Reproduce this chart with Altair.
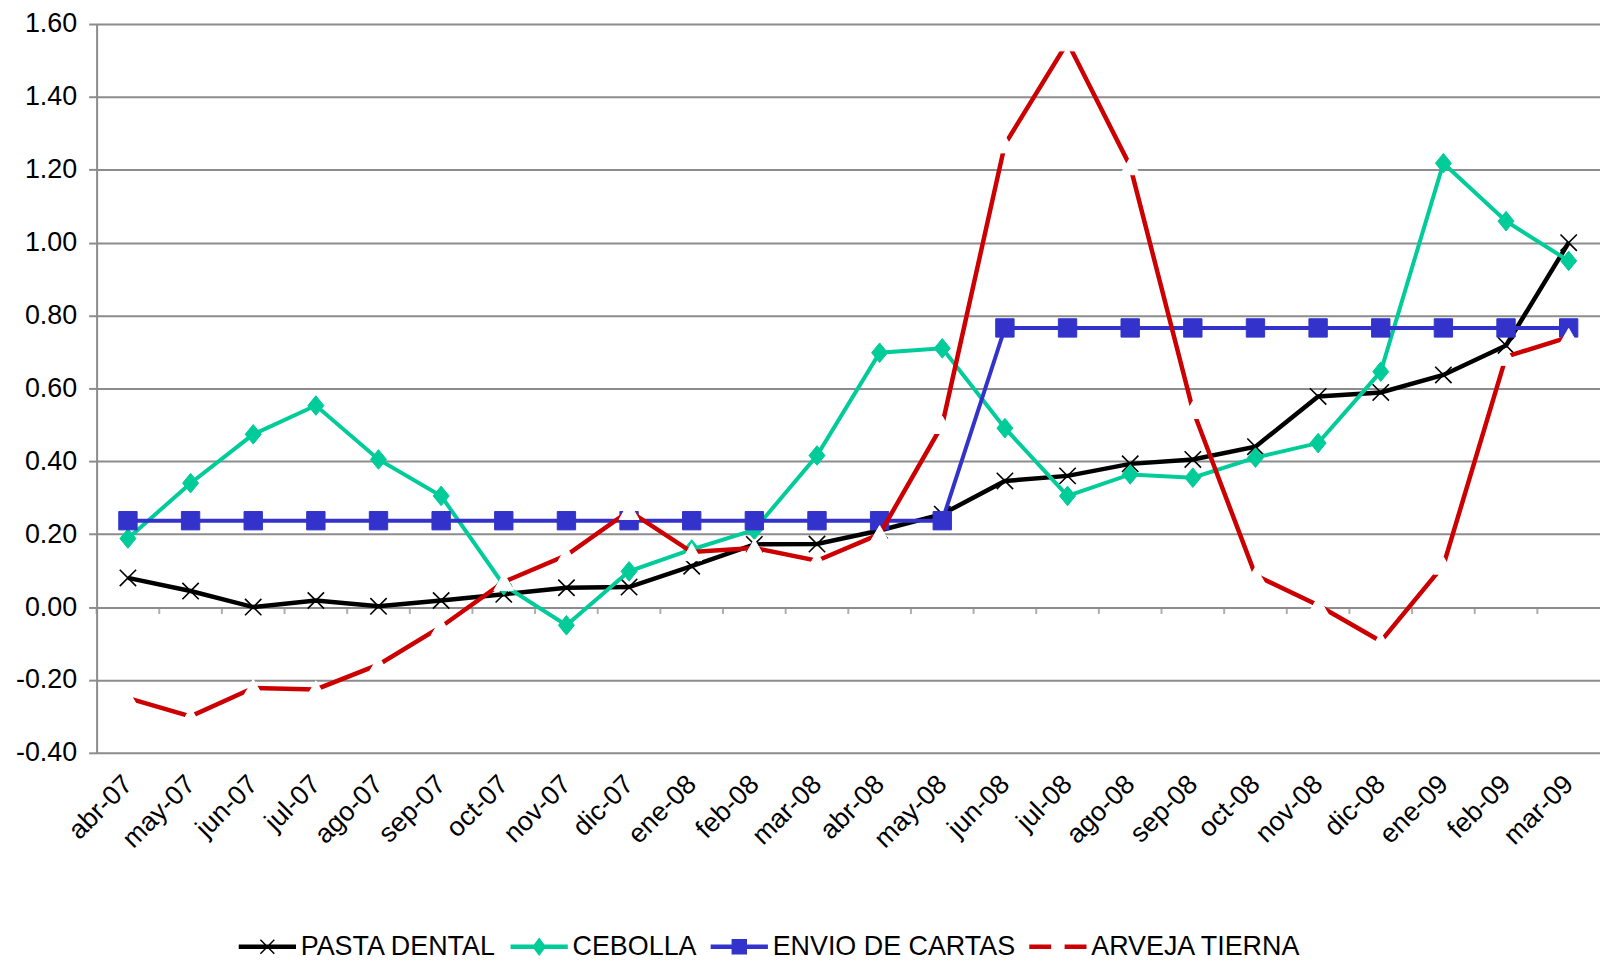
import altair as alt
import pandas as pd

months = ["abr-07", "may-07", "jun-07", "jul-07", "ago-07", "sep-07", "oct-07", "nov-07",
          "dic-07", "ene-08", "feb-08", "mar-08", "abr-08", "may-08", "jun-08", "jul-08",
          "ago-08", "sep-08", "oct-08", "nov-08", "dic-08", "ene-09", "feb-09", "mar-09"]
series_names = ["PASTA DENTAL", "CEBOLLA", "ENVIO DE CARTAS", "ARVEJA TIERNA"]

pasta = [0.080, 0.044, 0.000, 0.018, 0.002, 0.018, 0.035, 0.053, 0.055, 0.112, 0.172, 0.173,
         0.210, 0.255, 0.346, 0.360, 0.393, 0.405, 0.440, 0.578, 0.589, 0.637, 0.718, 1.000]
cebolla = [0.188, 0.340, 0.474, 0.553, 0.405, 0.305, 0.060, -0.050, 0.098, 0.158, 0.212, 0.416,
           0.698, 0.710, 0.491, 0.305, 0.364, 0.355, 0.410, 0.450, 0.646, 1.218, 1.059, 0.950]
envio = [0.237, 0.237, 0.237, 0.237, 0.237, 0.237, 0.237, 0.237, 0.237, 0.237, 0.237, 0.237,
         0.237, 0.237, 0.766, 0.766, 0.766, 0.766, 0.766, 0.766, 0.766, 0.766, 0.766, 0.766]
arveja = [-0.250, -0.300, -0.222, -0.226, -0.158, -0.054, 0.069, 0.142, 0.264, 0.151, 0.162, 0.127,
          0.200, 0.500, 1.270, 1.550, 1.210, 0.541, 0.087, 0.005, -0.094, 0.114, 0.687, 0.741]

colors = ["#000000", "#00CC99", "#3333CC", "#CC0000"]
values = [pasta, cebolla, envio, arveja]

rows = []
for name, vals in zip(series_names, values):
    for m, v in zip(months, vals):
        rows.append({"mes": m, "serie": name, "valor": v})
df = pd.DataFrame(rows)
ticks_df = pd.DataFrame({"mes": months})

W, H = 1510, 732
step = W / len(months)
FONT = "Liberation Sans"
FS = 27

x_enc = alt.X("mes:N", sort=months, scale=alt.Scale(type="point", padding=0.5),
              axis=alt.Axis(title=None, labelAngle=-45, labelAlign="right", labelBaseline="middle",
                            labelPadding=27, ticks=False, domain=False, grid=False,
                            labelFontSize=FS, labelFont=FONT, labelColor="#000000"))
y_enc = alt.Y("valor:Q", scale=alt.Scale(domain=[-0.4, 1.6], nice=False, zero=False),
              axis=alt.Axis(title=None, values=[-0.4, -0.2, 0.0, 0.2, 0.4, 0.6, 0.8, 1.0, 1.2, 1.4, 1.6],
                            format=".2f", labelExpr="replace(datum.label, '\u2212', '-')",
                            grid=True, gridColor="#8C8C8C", gridWidth=2,
                            domain=True, domainColor="#8C8C8C", domainWidth=2,
                            ticks=True, tickColor="#8C8C8C", tickWidth=2, tickSize=8,
                            labelPadding=12, labelFontSize=FS, labelFont=FONT, labelColor="#000000"))

base = alt.Chart(df)

# small tick marks along the zero line between categories
xticks = alt.Chart(ticks_df).mark_tick(orient="vertical", color="#8C8C8C", thickness=2, size=7,
                                       xOffset=-step / 2, yOffset=3.5).encode(
    x=alt.X("mes:N", sort=months), y=alt.datum(0.0))

markers = {
    "PASTA DENTAL": dict(shape="M-1,-1L1,1M-1,1L1,-1", size=270, filled=False, stroke="#000000",
                         strokeWidth=1.6),
    "CEBOLLA": dict(shape="M0,-1.1L0.9,0L0,1.1L-0.9,0Z", size=320, filled=True, fill="#00CC99",
                    stroke="#00CC99", strokeWidth=1),
    "ENVIO DE CARTAS": dict(shape="square", size=340, filled=True, fill="#3333CC",
                            stroke="#3333CC", strokeWidth=1),
    "ARVEJA TIERNA": dict(shape="triangle-up", size=400, filled=True, fill="#FFFFFF",
                          stroke="#FFFFFF", strokeWidth=1),
}
line_w = {"PASTA DENTAL": 4.5, "CEBOLLA": 4, "ENVIO DE CARTAS": 4, "ARVEJA TIERNA": 4.5}

layers = [xticks]
for name, col in zip(series_names, colors):
    sub = base.transform_filter(alt.datum.serie == name)
    layers.append(sub.mark_line(color=col, strokeWidth=line_w[name]).encode(x=x_enc, y=y_enc))
    layers.append(sub.mark_point(opacity=1, **markers[name]).encode(x=x_enc, y=y_enc))

# legend symbols: line segment + marker (unit = 10 px with symbolSize 400)
legend_shapes = [
    "M-2.8,-0.15H2.8V0.15H-2.8Z M-0.7,-0.7L0.7,0.7M-0.7,0.7L0.7,-0.7",
    "M-2.8,-0.15H2.8V0.15H-2.8Z M0,-0.8L0.6,0L0,0.8L-0.6,0Z",
    "M-2.8,-0.15H2.8V0.15H-2.8Z M-0.7,-0.7H0.7V0.7H-0.7Z",
    "M-2.8,-0.15H-0.75V0.15H-2.8Z M0.75,-0.15H2.8V0.15H0.75Z",
]
leg = alt.Legend(title=None, orient="none", direction="horizontal", legendX=158, legendY=913,
                 labelFontSize=FS, labelFont=FONT, labelColor="#000000", labelLimit=500,
                 symbolSize=400, symbolStrokeWidth=1.5, symbolOpacity=1, columnPadding=11,
                 labelOffset=20, padding=0)
legend_layer = base.mark_point(opacity=0).encode(
    x=x_enc, y=y_enc,
    fill=alt.Fill("serie:N", sort=series_names,
                  scale=alt.Scale(domain=series_names, range=colors), legend=leg),
    stroke=alt.Stroke("serie:N", sort=series_names,
                      scale=alt.Scale(domain=series_names, range=colors), legend=leg),
    shape=alt.Shape("serie:N", sort=series_names,
                    scale=alt.Scale(domain=series_names, range=legend_shapes), legend=leg),
)
layers.append(legend_layer)

chart = alt.layer(*layers).properties(
    width=W, height=H,
    autosize=alt.AutoSizeParams(type="none"),
    padding={"left": 89, "top": 14, "right": 0, "bottom": 206},
).configure_view(stroke=None).configure(background="#FFFFFF")

chart.save("out.html", embed_options={"renderer": "svg", "actions": False})
